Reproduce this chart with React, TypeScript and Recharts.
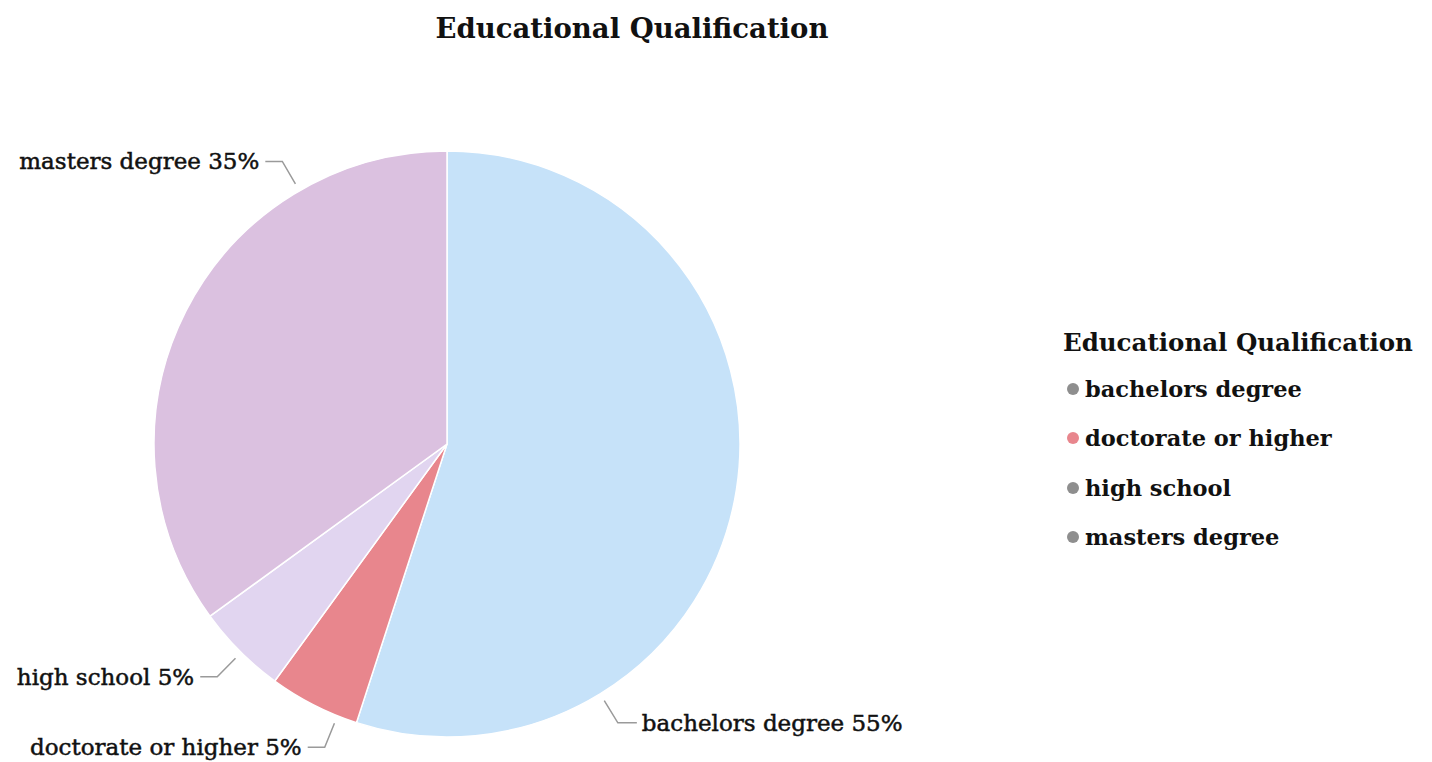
import { Cell, Legend, Pie, PieChart } from "recharts";

const CATEGORIES = ["bachelors degree", "doctorate or higher", "high school", "masters degree"];
const SHARES = [55, 5, 5, 35];
const SLICE_COLORS = ["#c6e2f9", "#e8868d", "#e1d5f0", "#dbc1e0"];
const DOT_COLORS = ["#8e8e8e", "#e8868d", "#8e8e8e", "#8e8e8e"];
// where along each slice the leader line leaves the rim (0 = slice start, 1 = slice end)
const LEADER_AT = [0.75, 0.22, 0.48, 0.76];

const FONT = '"DejaVu Serif", serif';

const data = CATEGORIES.map((name, i) => ({ name, value: SHARES[i] }));

function renderLabel(p: any) {
  const { cx, cy, outerRadius, startAngle, endAngle, index, name, value } = p;
  const a = startAngle + (endAngle - startAngle) * LEADER_AT[index];
  const rad = (-a * Math.PI) / 180;
  const cos = Math.cos(rad);
  const sin = Math.sin(rad);
  const x0 = cx + (outerRadius + 8) * cos;
  const y0 = cy + (outerRadius + 8) * sin;
  const x1 = cx + (outerRadius + 34) * cos;
  const y1 = cy + (outerRadius + 34) * sin;
  const right = cos >= 0;
  const x2 = x1 + (right ? 19 : -17);
  return (
    <g key={`lbl-${index}`}>
      <polyline
        points={`${x0},${y0} ${x1},${y1} ${x2},${y1}`}
        fill="none"
        stroke="#9a9a9a"
        strokeWidth={1.5}
      />
      <text
        x={x2 + (right ? 5 : -6)}
        y={y1}
        textAnchor={right ? "start" : "end"}
        dominantBaseline="central"
        fontFamily={FONT}
        fontSize={23}
        fill="#111"
        stroke="#111"
        strokeWidth={0.5}
      >
        {`${name} ${value}%`}
      </text>
    </g>
  );
}

function LegendBox({ payload }: any) {
  return (
    <div style={{ fontFamily: FONT, color: "#111" }}>
      <div style={{ fontWeight: "bold", fontSize: 24.5, lineHeight: "42px" }}>Educational Qualification</div>
      {(payload || []).map((item: any, i: number) => (
        <div key={i} style={{ display: "flex", alignItems: "center", height: 49.5, fontSize: 22.5, fontWeight: "bold" }}>
          <span
            style={{
              width: 12,
              height: 12,
              borderRadius: 6,
              background: DOT_COLORS[i],
              marginLeft: 4,
              marginRight: 6,
            }}
          />
          {item.value}
        </div>
      ))}
    </div>
  );
}

export default function App() {
  return (
    <div style={{ position: "absolute", left: 0, top: 0, width: 1432, height: 762, background: "#fff" }}>
      <div
        style={{
          position: "absolute",
          left: 0,
          top: 12,
          width: 1264,
          textAlign: "center",
          fontFamily: FONT,
          fontWeight: "bold",
          fontSize: 27.5,
          color: "#111",
        }}
      >
        Educational Qualification
      </div>
      <PieChart width={1432} height={762} margin={{ top: 0, right: 0, bottom: 0, left: 0 }}>
        <Pie
          data={data}
          dataKey="value"
          nameKey="name"
          cx={447}
          cy={444}
          outerRadius={293}
          startAngle={90}
          endAngle={-270}
          stroke="#fff"
          strokeWidth={1.5}
          label={renderLabel}
          labelLine={false}
          isAnimationActive={false}
        >
          {data.map((d, i) => (
            <Cell key={d.name} fill={SLICE_COLORS[i]} />
          ))}
        </Pie>
        <Legend
          layout="vertical"
          align="right"
          verticalAlign="top"
          content={<LegendBox />}
          wrapperStyle={{ left: 1063, top: 322, right: "auto", width: 369 }}
        />
      </PieChart>
    </div>
  );
}
